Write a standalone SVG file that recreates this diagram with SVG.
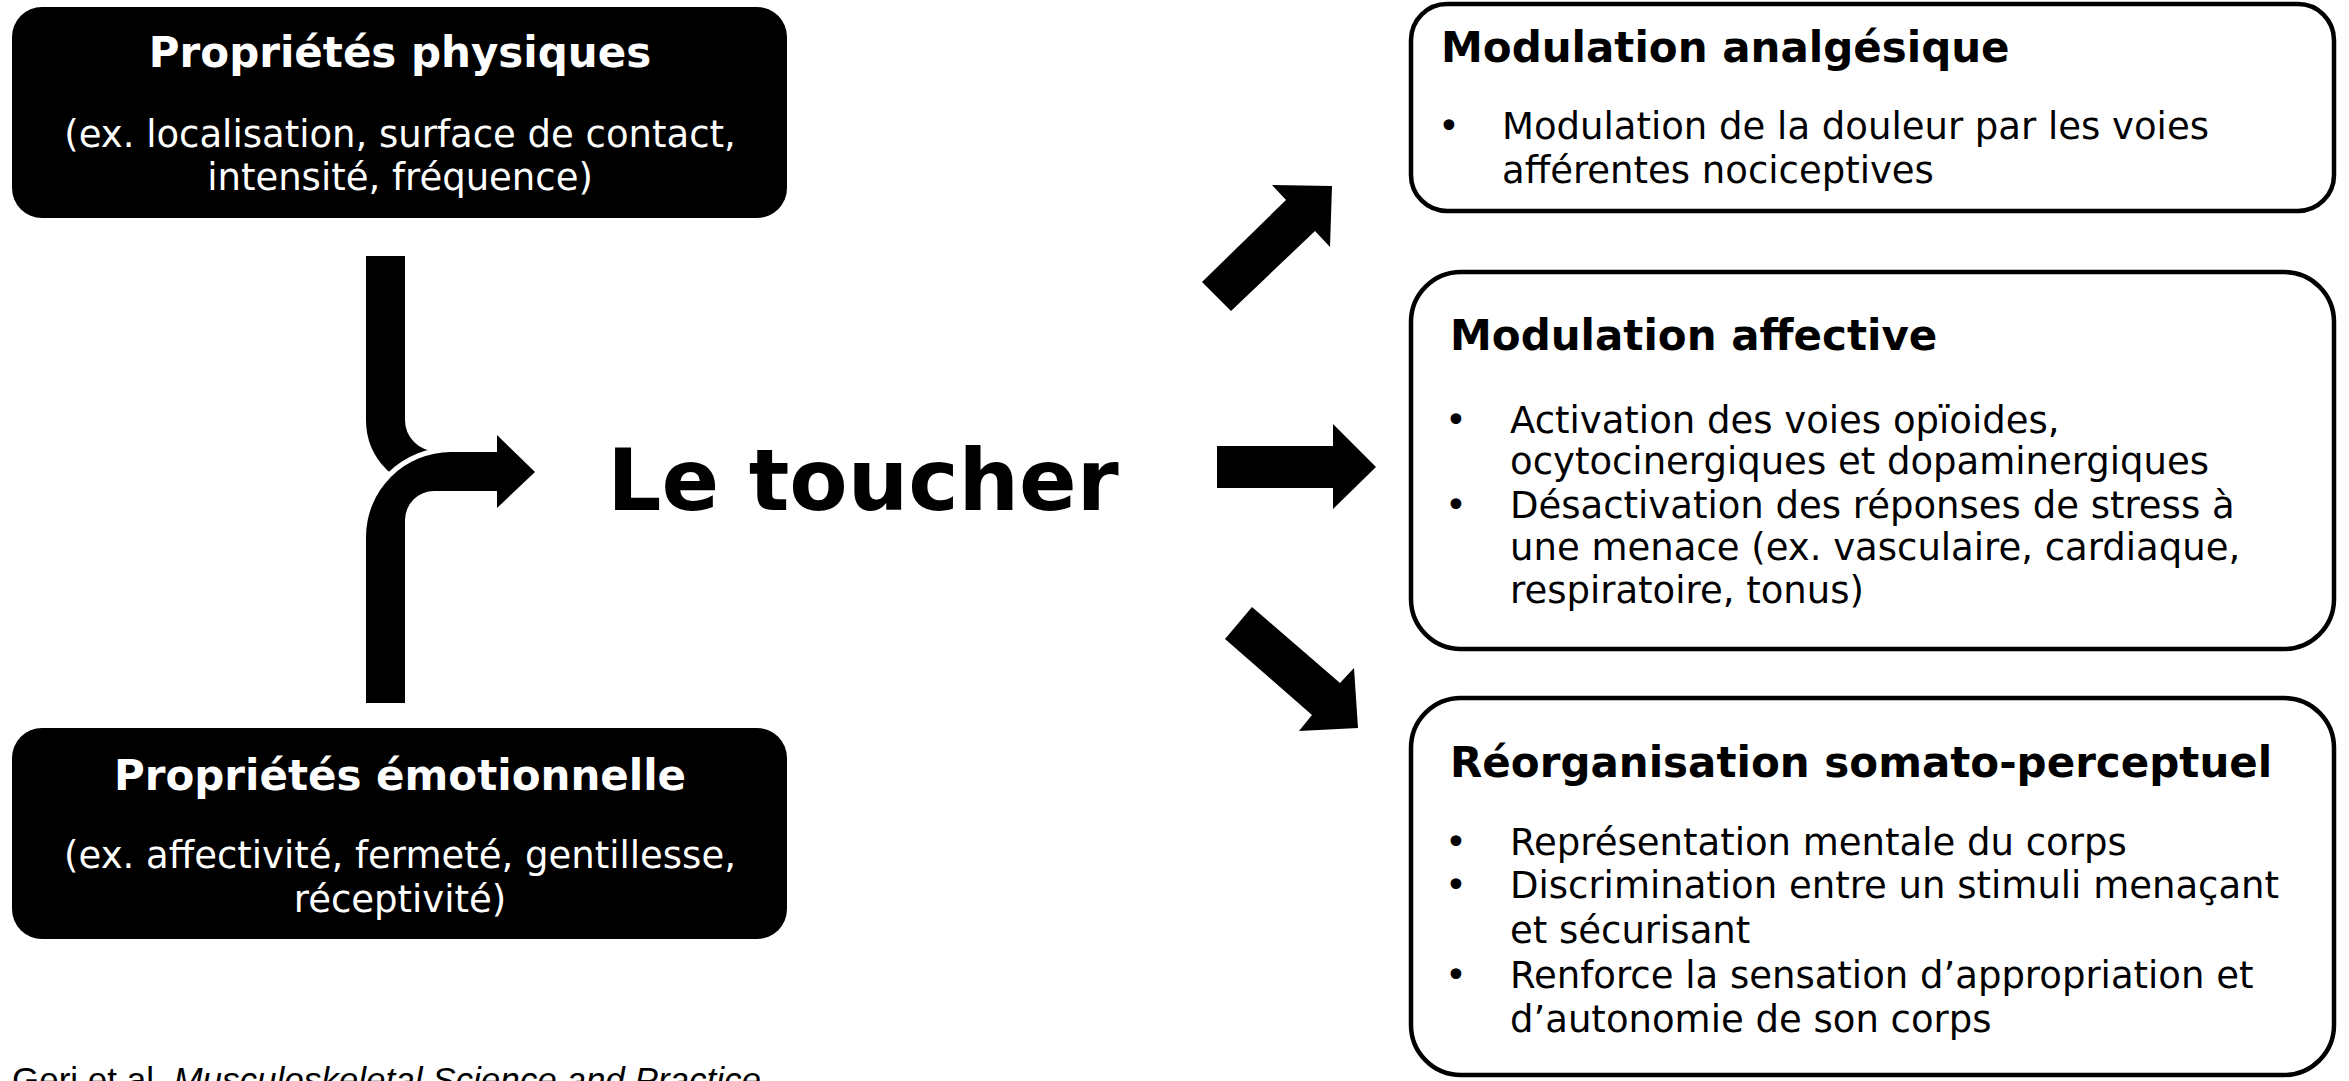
<svg xmlns="http://www.w3.org/2000/svg" width="2349" height="1081" viewBox="0 0 2349 1081">
<style>
.dark{fill:#000}
.card{fill:#fff;stroke:#000;stroke-width:4.5}
.t{font-family:"DejaVu Sans","Verdana",sans-serif}
.h{font-weight:bold;font-size:42px}
.b{font-size:37px}
.w{fill:#fff}
.k{fill:#000}
.big{font-family:"DejaVu Sans","Verdana",sans-serif;font-weight:bold;font-size:85px;fill:#000}
.foot{font-family:"Liberation Sans",Arial,sans-serif;font-size:35px;fill:#000}
</style>
<rect width="2349" height="1081" fill="#fff"/>

<g id="node-physiques">
<rect class="dark" x="12" y="7" width="775" height="211" rx="30"/>
<text class="t h w" x="400" y="67" text-anchor="middle">Propriétés physiques</text>
<text class="t b w" x="400" y="147" text-anchor="middle">(ex. localisation, surface de contact,</text>
<text class="t b w" x="400" y="190" text-anchor="middle">intensité, fréquence)</text>
</g>

<g id="node-emotionnelle">
<rect class="dark" x="12" y="728" width="775" height="211" rx="30"/>
<text class="t h w" x="400" y="790" text-anchor="middle">Propriétés émotionnelle</text>
<text class="t b w" x="400" y="868" text-anchor="middle">(ex. affectivité, fermeté, gentillesse,</text>
<text class="t b w" x="400" y="912" text-anchor="middle">réceptivité)</text>
</g>

<g id="node-toucher">
<text class="big" x="863" y="510" text-anchor="middle">Le toucher</text>
</g>

<g id="node-analgesique">
<rect class="card" x="1411" y="4" width="923" height="207" rx="36"/>
<text class="t h k" x="1441" y="62">Modulation analgésique</text>
<text class="t b k" x="1438" y="139">•</text>
<text class="t b k" x="1502" y="139">Modulation de la douleur par les voies</text>
<text class="t b k" x="1502" y="183">afférentes nociceptives</text>
</g>

<g id="node-affective">
<rect class="card" x="1411" y="272" width="923" height="377" rx="50"/>
<text class="t h k" x="1450" y="350">Modulation affective</text>
<text class="t b k" x="1445" y="433">•</text>
<text class="t b k" x="1510" y="433">Activation des voies opïoides,</text>
<text class="t b k" x="1510" y="474">ocytocinergiques et dopaminergiques</text>
<text class="t b k" x="1445" y="518">•</text>
<text class="t b k" x="1510" y="518">Désactivation des réponses de stress à</text>
<text class="t b k" x="1510" y="560">une menace (ex. vasculaire, cardiaque,</text>
<text class="t b k" x="1510" y="603">respiratoire, tonus)</text>
</g>

<g id="node-somato">
<rect class="card" x="1411" y="698" width="923" height="377" rx="50"/>
<text class="t h k" x="1450" y="777">Réorganisation somato-perceptuel</text>
<text class="t b k" x="1445" y="855">•</text>
<text class="t b k" x="1510" y="855">Représentation mentale du corps</text>
<text class="t b k" x="1445" y="898">•</text>
<text class="t b k" x="1510" y="898">Discrimination entre un stimuli menaçant</text>
<text class="t b k" x="1510" y="943">et sécurisant</text>
<text class="t b k" x="1445" y="988">•</text>
<text class="t b k" x="1510" y="988">Renforce la sensation d’appropriation et</text>
<text class="t b k" x="1510" y="1032">d’autonomie de son corps</text>
</g>

<g id="connectors">
<path d="M385.5,256 V420 A50.5,50.5 0 0 0 436,470.5" fill="none" stroke="#000" stroke-width="39"/>
<path d="M366,703 V537 A85,85 0 0 1 451,452 H497 V435 L535,472 L497,508 V491 H434 A29,29 0 0 0 405,520 V703 Z" fill="#000" stroke="#fff" stroke-width="10" stroke-linejoin="miter" paint-order="stroke"/>
<polygon points="1202,282 1231,311 1315,231 1330,247 1332,186 1272,185 1286,200" fill="#000"/>
<polygon points="1217,446 1333,446 1333,424 1376,467 1333,509 1333,488 1217,488" fill="#000"/>
<polygon points="1252,607 1340,683 1354,668 1358,728 1299,731 1312,715 1225,639" fill="#000"/>
</g>

<text class="foot" x="12" y="1092">Geri et al. <tspan font-style="italic">Musculoskeletal Science and Practice</tspan></text>
</svg>
